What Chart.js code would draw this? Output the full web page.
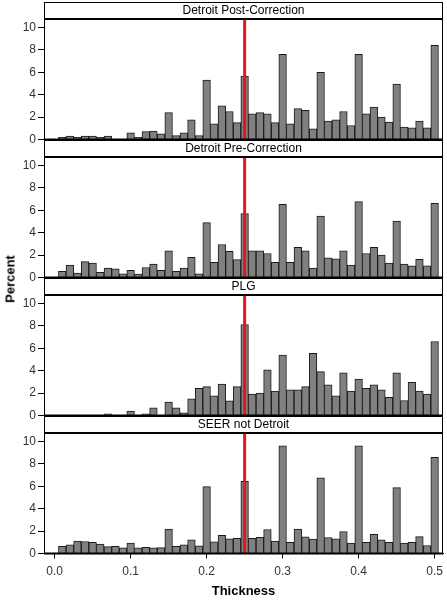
<!DOCTYPE html>
<html>
<head>
<meta charset="utf-8">
<script src="https://cdn.jsdelivr.net/npm/chart.js@4/dist/chart.umd.min.js"></script>
<style>
  body { margin: 0; background: #fff; }
  #wrap { position: relative; width: 447px; height: 600px; overflow: hidden; }
  canvas { position: absolute; left: 0; }
  #ylabel {
    position: absolute; left: 10px; top: 279px;
    transform: translate(-50%, -50%) rotate(-90deg);
    font: bold 13px Arial, "Liberation Sans", sans-serif; color: #000; white-space: nowrap;
  }
</style>
</head>
<body>
<div id="wrap">
  <canvas id="c0" width="447" height="150" style="top:2px"></canvas>
  <canvas id="c1" width="447" height="150" style="top:140px"></canvas>
  <canvas id="c2" width="447" height="150" style="top:278px"></canvas>
  <canvas id="c3" width="447" height="184" style="top:416px"></canvas>
  <div id="ylabel">Percent</div>
</div>
<script>
  // bin centres 0.00 .. 0.50
  const thickness = [0.00,0.01,0.02,0.03,0.04,0.05,0.06,0.07,0.08,0.09,0.10,0.11,0.12,0.13,0.14,0.15,0.16,0.17,0.18,0.19,0.20,0.21,0.22,0.23,0.24,0.25,0.26,0.27,0.28,0.29,0.30,0.31,0.32,0.33,0.34,0.35,0.36,0.37,0.38,0.39,0.40,0.41,0.42,0.43,0.44,0.45,0.46,0.47,0.48,0.49,0.50];
  const panelTitles = ['Detroit Post-Correction', 'Detroit Pre-Correction', 'PLG', 'SEER not Detroit'];

  const detroitPost = [0,0.2,0.3,0.2,0.3,0.3,0.2,0.3,0,0,0.6,0.2,0.7,0.75,0.5,2.4,0.35,0.6,1.75,0.35,5.3,1.4,3.0,2.5,1.5,5.65,2.3,2.4,2.3,1.5,7.6,1.4,2.75,2.6,0.95,6.0,1.65,1.75,2.5,1.25,7.6,2.3,2.9,2.0,1.55,4.95,1.1,1.05,1.65,1.05,8.4];
  const detroitPre = [0,0.56,1.1,0.4,1.42,1.28,0.47,0.83,0.77,0.33,0.65,0.3,0.89,1.19,0.65,2.37,0.56,0.83,1.8,0.33,4.9,1.36,2.94,2.34,1.6,5.7,2.37,2.37,2.14,1.36,6.53,1.36,2.7,2.37,0.83,5.49,1.75,1.66,2.37,1.1,6.77,2.14,2.7,1.99,1.28,5.04,1.19,1.04,1.63,1.04,6.62];
  const plg = [0,0,0,0,0,0,0,0.15,0,0,0.39,0,0.15,0.68,0,1.2,0.68,0.24,1.48,2.43,2.58,1.75,2.8,1.3,2.58,8.1,1.9,2.0,4.07,2.17,5.4,2.28,2.28,2.58,5.55,3.92,2.73,1.75,3.8,2.17,3.26,2.43,2.73,2.28,1.63,3.8,1.34,2.97,2.17,1.9,6.6];
  const seerNotDetroit = [0,0.65,0.77,1.1,1.07,1.0,0.83,0.62,0.65,0.5,0.92,0.5,0.56,0.5,0.53,2.17,0.65,0.77,1.22,0.68,5.96,1.04,1.63,1.3,1.36,6.44,1.36,1.45,2.14,1.1,9.6,1.0,2.17,1.48,1.28,6.74,1.42,1.3,1.96,0.92,9.6,1.0,1.72,1.22,1.0,5.88,0.92,1.0,1.51,0.71,8.58];

  const yTicks = [0, 2, 4, 6, 8, 10];
  const xTicks = [0.0, 0.1, 0.2, 0.3, 0.4, 0.5];
  const cutoff = 0.25;

  const FONT = 'Arial, "Liberation Sans", sans-serif';
  const HEADER_H = 17;

  // strip header, frame and the red cut-off line
  const panelDecor = {
    id: 'panelDecor',
    afterDatasetsDraw(chart, args, opts) {
      const { ctx, chartArea: a, scales } = chart;
      ctx.save();
      // header strip
      ctx.fillStyle = '#fff';
      ctx.fillRect(a.left, a.top - HEADER_H, a.right - a.left, HEADER_H);
      ctx.strokeStyle = '#000';
      ctx.lineWidth = 1;
      ctx.strokeRect(a.left + 0.5, a.top - HEADER_H + 0.5, a.right - a.left - 1, HEADER_H);
      ctx.fillStyle = '#000';
      ctx.font = '12px ' + FONT;
      ctx.textAlign = 'center';
      ctx.textBaseline = 'middle';
      ctx.fillText(opts.title, (a.left + a.right) / 2, a.top - HEADER_H / 2 + 0.5);
      // red line
      const x = scales.x.getPixelForValue(cutoff);
      ctx.strokeStyle = '#e8141c';
      ctx.lineWidth = 3;
      ctx.beginPath();
      ctx.moveTo(x, a.top);
      ctx.lineTo(x, a.bottom);
      ctx.stroke();
      // frame
      ctx.strokeStyle = '#000';
      ctx.lineWidth = 1;
      ctx.beginPath();
      ctx.moveTo(a.left + 0.5, a.top); ctx.lineTo(a.left + 0.5, a.bottom);
      ctx.moveTo(a.right - 0.5, a.top); ctx.lineTo(a.right - 0.5, a.bottom);
      ctx.stroke();
      ctx.lineWidth = 2;
      ctx.beginPath();
      ctx.moveTo(a.left, a.top); ctx.lineTo(a.right, a.top);
      ctx.moveTo(a.left, a.bottom); ctx.lineTo(a.right, a.bottom);
      ctx.stroke();
      ctx.restore();
    }
  };

  function makePanel(id, title, values, showX) {
    const ctx = document.getElementById(id).getContext('2d');
    return new Chart(ctx, {
      type: 'bar',
      data: {
        datasets: [{
          data: thickness.map((t, i) => ({ x: t, y: values[i] })),
          backgroundColor: '#808080',
          borderColor: '#1a1a1a',
          borderWidth: 1,
          borderSkipped: 'bottom',
          barPercentage: 1.0,
          categoryPercentage: 1.0
        }]
      },
      options: {
        responsive: false,
        animation: false,
        devicePixelRatio: 1,
        layout: { padding: { top: HEADER_H, bottom: showX ? 0 : 12.5, left: 0, right: 4 } },
        plugins: {
          legend: { display: false },
          tooltip: { enabled: false },
          panelDecor: { title: title }
        },
        scales: {
          x: {
            type: 'linear',
            min: -0.014,
            max: 0.511,
            offset: false,
            display: showX,
            afterFit: s => {
              if (showX) s.height = 46.5;
              // keep plot width equal in every panel
              s.paddingLeft = 0;
              s.paddingRight = 0;
            },
            afterBuildTicks: s => { s.ticks = xTicks.map(v => ({ value: v })); },
            ticks: {
              callback: v => v.toFixed(1),
              font: { size: 12, family: FONT },
              color: '#333',
              padding: 6,
              maxRotation: 0
            },
            grid: { display: true, offset: false, drawOnChartArea: false, drawTicks: true, tickLength: 5, color: '#000' },
            border: { display: true, color: '#000', width: 1 },
            title: {
              display: true,
              text: 'Thickness',
              color: '#000',
              font: { size: 13, weight: 'bold', family: FONT },
              padding: { top: 0, bottom: 1 }
            }
          },
          y: {
            min: 0,
            max: 10.75,
            afterFit: s => { s.width = 44; },
            afterBuildTicks: s => { s.ticks = yTicks.map(v => ({ value: v })); },
            ticks: {
              font: { size: 12, family: FONT },
              color: '#333',
              padding: 2
            },
            grid: { display: true, drawOnChartArea: false, drawTicks: true, tickLength: 6, color: '#000' },
            border: { display: true, color: '#000', width: 1 }
          }
        }
      },
      plugins: [panelDecor]
    });
  }

  makePanel('c0', panelTitles[0], detroitPost, false);
  makePanel('c1', panelTitles[1], detroitPre, false);
  makePanel('c2', panelTitles[2], plg, false);
  makePanel('c3', panelTitles[3], seerNotDetroit, true);
</script>
</body>
</html>
